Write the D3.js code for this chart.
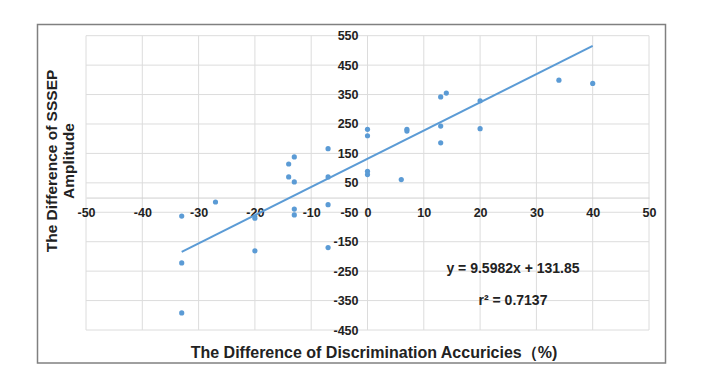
<!DOCTYPE html>
<html>
<head>
<meta charset="utf-8">
<script src="https://cdn.jsdelivr.net/npm/d3@7"></script>
<style>
  body { margin: 0; background: #fff; }
  svg { display: block; font-family: "Liberation Sans", Arial, sans-serif; }
</style>
</head>
<body>
<div id="chart"></div>
<script>
// accuracy difference (%) and SSSEP amplitude difference
const accDiff = [-33, -33, -33, -27, -20, -20, -14, -14, -13, -13, -13, -13, -7, -7, -7, -7,
                 0, 0, 0, 0, 6, 7, 7, 13, 14, 13, 13, 20, 20, 34, 40];
const ampDiff = [-63, -222, -392, -15, -70, -181, 114, 70, 138, 53, -39, -59, 166, 70, -24, -170,
                 232, 210, 89, 78, 61, 232, 226, 342, 355, 243, 186, 329, 234, 399, 388];
const xTicks = [-50, -40, -30, -20, -10, 0, 10, 20, 30, 40, 50];
const yTicks = [-450, -350, -250, -150, -50, 50, 150, 250, 350, 450, 550];
const slope = 9.5982;
const intercept = 131.85;
const rSquared = 0.7137;

const width = 701;
const height = 379;
const blue = "#5b9bd5";
const grid = "#dcdcdc";

const xScale = d3.scaleLinear().domain([-50, 50]).range([86, 649]);
const yScale = d3.scaleLinear().domain([-450, 550]).range([330, 35.7]);

const svg = d3.select("#chart").append("svg")
  .attr("width", width)
  .attr("height", height);

svg.append("rect")
  .attr("x", 37.5).attr("y", 24.5)
  .attr("width", 628).attr("height", 338.5)
  .style("fill", "#fff")
  .style("stroke", "#808080")
  .style("stroke-width", 1.5);

// gridlines
svg.append("g").selectAll("line")
  .data(xTicks)
  .join("line")
  .attr("x1", d => xScale(d)).attr("x2", d => xScale(d))
  .attr("y1", yScale(550)).attr("y2", yScale(-450))
  .style("stroke", grid);

svg.append("g").selectAll("line")
  .data(yTicks)
  .join("line")
  .attr("x1", xScale(-50)).attr("x2", xScale(50))
  .attr("y1", d => yScale(d)).attr("y2", d => yScale(d))
  .style("stroke", grid);

// axes crossing at zero, plain hyphen for negatives like the original
const plain = d => String(d);

const xAxis = svg.append("g")
  .attr("transform", `translate(0, ${yScale(0)})`)
  .call(d3.axisBottom(xScale).tickValues(xTicks).tickFormat(plain).tickSize(0).tickPadding(11));
xAxis.select(".domain").style("stroke", "#cfcfcf");

const yAxis = svg.append("g")
  .attr("transform", `translate(${xScale(0)}, 0)`)
  .call(d3.axisLeft(yScale).tickValues(yTicks).tickFormat(plain).tickSize(0).tickPadding(9));
yAxis.select(".domain").remove();

svg.selectAll(".tick text")
  .style("font-family", "'Liberation Sans', Arial, sans-serif")
  .style("font-size", "12.5px")
  .style("font-weight", "bold")
  .style("fill", "#222");

// trend line
const xExtent = d3.extent(accDiff);
svg.append("path")
  .datum(xExtent.map(x => [x, slope * x + intercept]))
  .attr("d", d3.line().x(d => xScale(d[0])).y(d => yScale(d[1])))
  .style("fill", "none")
  .style("stroke", blue)
  .style("stroke-width", 2);

// points
svg.append("g").selectAll("circle")
  .data(accDiff.map((x, i) => [x, ampDiff[i]]))
  .join("circle")
  .attr("cx", d => xScale(d[0]))
  .attr("cy", d => yScale(d[1]))
  .attr("r", 2.6)
  .style("fill", blue);

// equation
svg.append("text")
  .attr("x", 513).attr("y", 273)
  .attr("text-anchor", "middle")
  .style("font-size", "14px").style("font-weight", "bold").style("fill", "#222")
  .text(`y = ${slope}x + ${intercept}`);

svg.append("text")
  .attr("x", 513).attr("y", 305)
  .attr("text-anchor", "middle")
  .style("font-size", "14px").style("font-weight", "bold").style("fill", "#222")
  .text(`r² = ${rSquared}`);

// axis titles
svg.append("text")
  .attr("x", 374).attr("y", 358)
  .attr("text-anchor", "middle")
  .style("font-size", "16px").style("font-weight", "bold").style("fill", "#222")
  .text("The Difference of Discrimination Accuricies（%)");

const yTitle = svg.append("text")
  .attr("transform", "translate(0, 161) rotate(-90)")
  .attr("text-anchor", "middle")
  .style("font-size", "15.5px").style("font-weight", "bold").style("fill", "#222");
yTitle.append("tspan").attr("x", 0).attr("y", 57).text("The Difference of SSSEP");
yTitle.append("tspan").attr("x", 0).attr("y", 74).text("Amplitude");
</script>
</body>
</html>
